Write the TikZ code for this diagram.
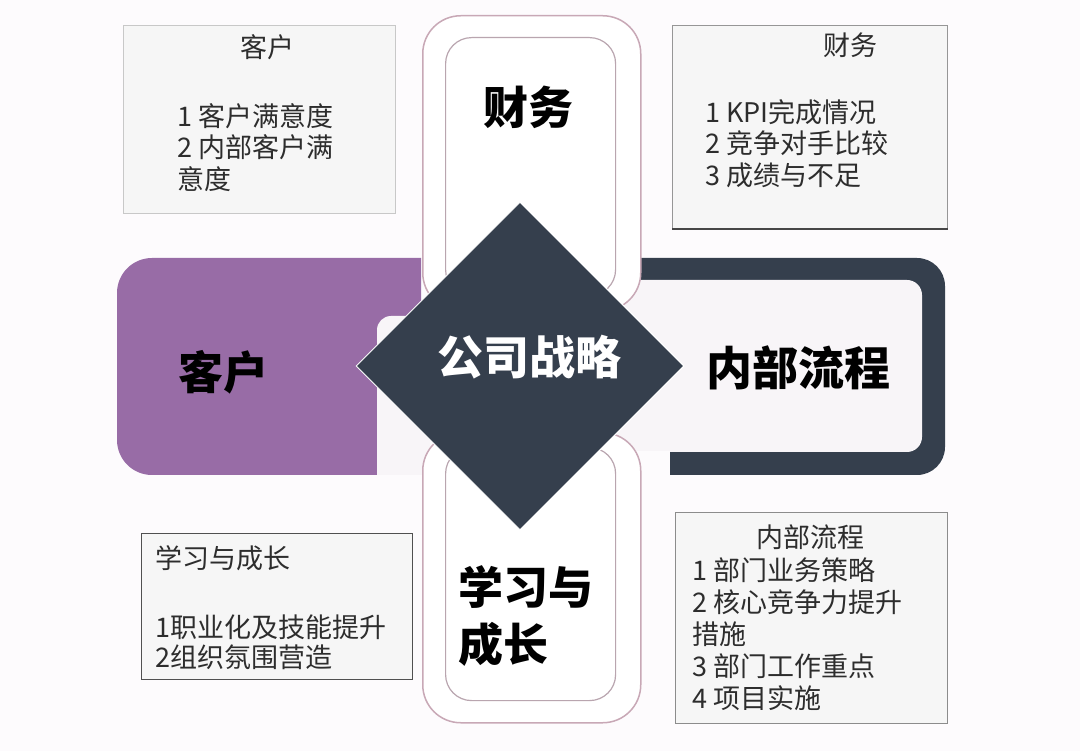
\documentclass[tikz,border=0pt]{standalone}
\usepackage{fontspec}
\setmainfont{Noto Sans CJK SC}
\usetikzlibrary{shapes.geometric}
\definecolor{bg}{RGB}{253,251,253}
\definecolor{purp}{RGB}{152,108,166}
\definecolor{darkc}{RGB}{53,63,77}
\definecolor{innerc}{RGB}{248,245,248}
\definecolor{pillline}{RGB}{200,168,182}
\definecolor{pillin}{RGB}{185,165,175}
\definecolor{boxfill}{RGB}{246,246,246}
\definecolor{txt}{RGB}{45,45,45}
\definecolor{bordA}{RGB}{200,200,200}
\definecolor{bordB}{RGB}{150,150,150}
\definecolor{bordC}{RGB}{80,80,80}
\definecolor{bordD}{RGB}{140,140,140}
\definecolor{bordE}{RGB}{70,70,70}
\tikzset{
 bigtxt/.style={font=\fontsize{45}{57}\selectfont\bfseries, text=black, inner sep=0, align=left},
 boxtxt/.style={font=\fontsize{27}{31.5}\selectfont, text=txt, inner sep=0, align=left},
 infobox/.style={draw=#1, fill=boxfill, line width=1.2, anchor=north west, inner sep=0},
 pillout/.style={draw=pillline, fill=white, line width=1.5, rounded corners=38, anchor=north west, inner sep=0},
 pillinner/.style={draw=pillin, line width=1.2, rounded corners=26, anchor=north west, inner sep=0},
}
\begin{document}
\begin{tikzpicture}[x=1pt,y=-1pt]
\fill[bg] (0,0) rectangle (1080,751);
\useasboundingbox (0,0) rectangle (1080,751);
% dark frame (内部流程)
\fill[darkc, rounded corners=28] (560,258) rectangle (945,475);
\fill[innerc, rounded corners=15] (560,280) rectangle (922,452);
\fill[bg] (600,451) rectangle (670,477);
% purple block (客户)
\begin{scope}
\clip (110,250) rectangle (421,480);
\fill[purp, rounded corners=35] (117,258) rectangle (480,475);
\end{scope}
\begin{scope}
\clip (300,316) rectangle (430,475);
\fill[innerc, rounded corners=14] (377,316) rectangle (470,520);
\end{scope}
% pills
\node[pillout, minimum width=218, minimum height=295] (ptop) at (422,15) {};
\node[pillinner, minimum width=170, minimum height=258] (ptopin) at (445,37) {};
\node[pillout, minimum width=218, minimum height=290] (pbot) at (422,432) {};
\node[pillinner, minimum width=170, minimum height=253] (pbotin) at (445,447) {};
% diamond
\node[diamond, fill=darkc, draw=white, line width=1, minimum width=328, minimum height=328, inner sep=0] (dia) at (520,366) {};
\node[bigtxt, text=white, font=\fontsize{46}{57}\selectfont\bfseries] (diat) at (529,357) {公司战略};
% big labels
\node[bigtxt] (lcw) at (528,107) {财务};
\node[bigtxt] (lkh) at (223,372) {客户};
\node[bigtxt, font=\fontsize{46}{57}\selectfont\bfseries] (lnb) at (798,368) {内部流程};
\node[bigtxt, anchor=west] (lxx) at (458,616.5) {学习与\\成长};
% info boxes
\node[infobox=bordA, minimum width=272, minimum height=188] (b1) at (123,25) {};
\node[boxtxt] (b1t) at (267,47) {客户};
\node[boxtxt, anchor=west] (b1l) at (177,147.5) {1 客户满意度\\2 内部客户满\\意度};

\node[infobox=bordB, minimum width=275, minimum height=203] (b2) at (672,25) {};
\draw[line width=2.2, bordE] (b2.south west) -- (b2.south east);
\node[boxtxt] (b2t) at (850,45) {财务};
\node[boxtxt, anchor=west] (b2l) at (705,143.5) {1 KPI完成情况\\2 竞争对手比较\\3 成绩与不足};

\node[infobox=bordC, minimum width=271, minimum height=146] (b3) at (141,533) {};
\node[boxtxt, anchor=west] (b3t) at (155,558) {学习与成长};
\node[boxtxt, anchor=west, font=\fontsize{27}{30}\selectfont] (b3l) at (155,642) {1职业化及技能提升\\2组织氛围营造};

\node[infobox=bordD, minimum width=272, minimum height=211] (b4) at (675,512) {};
\node[boxtxt] (b4t) at (810,537) {内部流程};
\node[boxtxt, anchor=west, font=\fontsize{27}{32}\selectfont] (b4l) at (692,634) {1 部门业务策略\\2 核心竞争力提升\\措施\\3 部门工作重点\\4 项目实施};
\end{tikzpicture}
\end{document}
